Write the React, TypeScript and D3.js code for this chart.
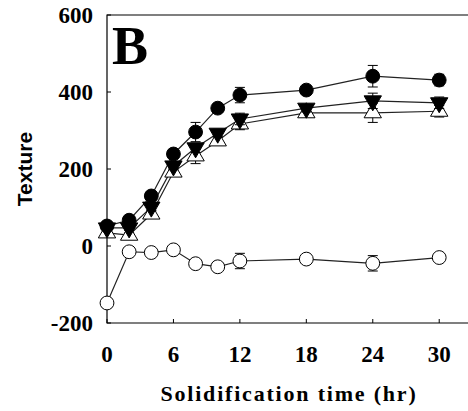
import React, { useEffect, useRef } from 'react';
import * as d3 from 'd3';

const hours = [0, 2, 4, 6, 8, 10, 12, 18, 24, 30];
const filledCircle = [52, 67, 130, 239, 296, 358, 392, 405, 441, 431];
const filledCircleErr = [8, 10, 10, 12, 25, 10, 20, 8, 28, 15];
const downTri = [47, 47, 101, 208, 255, 293, 330, 358, 377, 372];
const downTriErr = [6, 6, 8, 10, 12, 10, 15, 10, 20, 15];
const upTri = [34, 28, 83, 192, 234, 273, 317, 346, 346, 350];
const upTriErr = [6, 6, 8, 10, 20, 12, 15, 10, 25, 15];
const openCircle = [-148, -15, -17, -10, -46, -54, -39, -34, -45, -30];
const openCircleErr = [5, 5, 5, 5, 6, 6, 20, 8, 20, 6];
const xTicks = [0, 6, 12, 18, 24, 30];
const yTicks = [-200, 0, 200, 400, 600];

export default function App() {
  const ref = useRef<SVGSVGElement>(null);

  useEffect(() => {
    const width = 468;
    const height = 411;
    const margin = { top: 15, right: 0, bottom: 88, left: 107 };

    const svg = d3.select(ref.current);
    svg.selectAll('*').remove();
    svg.attr('width', width).attr('height', height);

    const x = d3.scaleLinear().domain([0, 32.6]).range([margin.left, width - margin.right]);
    const y = d3.scaleLinear().domain([-200, 600]).range([height - margin.bottom, margin.top]);

    // frame (right side runs off the picture)
    svg.append('path')
      .attr('d', `M${width},${y(600)}H${x(0)}V${y(-200)}H${width}`)
      .attr('fill', 'none')
      .attr('stroke', '#000')
      .attr('stroke-width', 1.2);

    // ticks point inwards
    svg.append('g').selectAll('line').data(yTicks).enter().append('line')
      .attr('x1', x(0)).attr('x2', x(0) + 4)
      .attr('y1', d => y(d)).attr('y2', d => y(d))
      .attr('stroke', '#000');
    svg.append('g').selectAll('line').data(xTicks).enter().append('line')
      .attr('x1', d => x(d)).attr('x2', d => x(d))
      .attr('y1', y(-200)).attr('y2', y(-200) - 4)
      .attr('stroke', '#000');

    const serif = '"Liberation Serif", "Times New Roman", serif';

    svg.append('g').selectAll('text').data(yTicks).enter().append('text')
      .attr('x', x(0) - 14).attr('y', d => y(d) + 8)
      .attr('text-anchor', 'end')
      .style('font-family', serif).style('font-weight', 'bold').style('font-size', '23px')
      .text(d => d);
    svg.append('g').selectAll('text').data(xTicks).enter().append('text')
      .attr('x', d => x(d)).attr('y', 362)
      .attr('text-anchor', 'middle')
      .style('font-family', serif).style('font-weight', 'bold').style('font-size', '23px')
      .text(d => d);

    svg.append('text')
      .attr('x', 289).attr('y', 401)
      .attr('text-anchor', 'middle')
      .style('font-family', serif).style('font-weight', 'bold').style('font-size', '22px')
      .style('letter-spacing', '1.8px')
      .text('Solidification time (hr)');

    svg.append('text')
      .attr('transform', `translate(32,${(y(600) + y(-200)) / 2}) rotate(-90)`)
      .attr('text-anchor', 'middle')
      .style('font-family', '"Liberation Sans", Arial, sans-serif').style('font-weight', 'bold').style('font-size', '21px')
      .text('Texture');

    svg.append('text')
      .attr('x', 112).attr('y', 64)
      .style('font-family', serif).style('font-weight', 'bold').style('font-size', '54px')
      .text('B');

    const series = [
      { vals: openCircle, err: openCircleErr, shape: 'circle', fill: '#fff' },
      { vals: upTri, err: upTriErr, shape: 'up', fill: '#fff' },
      { vals: downTri, err: downTriErr, shape: 'down', fill: '#000' },
      { vals: filledCircle, err: filledCircleErr, shape: 'circle', fill: '#000' },
    ];

    const line = d3.line<number>().x((_, i) => x(hours[i])).y(d => y(d));

    series.forEach(s => {
      svg.append('path')
        .attr('d', line(s.vals))
        .attr('fill', 'none')
        .attr('stroke', '#222')
        .attr('stroke-width', 1.2);
    });

    series.forEach(s => {
      const g = svg.append('g');
      s.vals.forEach((v, i) => {
        const cx = x(hours[i]);
        const lo = v - s.err[i];
        const hi = v + s.err[i];
        g.append('line').attr('x1', cx).attr('x2', cx).attr('y1', y(lo)).attr('y2', y(hi)).attr('stroke', '#000');
        g.append('line').attr('x1', cx - 5).attr('x2', cx + 5).attr('y1', y(hi)).attr('y2', y(hi)).attr('stroke', '#000');
        g.append('line').attr('x1', cx - 5).attr('x2', cx + 5).attr('y1', y(lo)).attr('y2', y(lo)).attr('stroke', '#000');
      });
      const sym = s.shape === 'circle'
        ? d3.symbol().type(d3.symbolCircle).size(150)
        : d3.symbol().type(d3.symbolTriangle).size(130);
      g.selectAll('path.m').data(s.vals).enter().append('path')
        .attr('class', 'm')
        .attr('d', sym)
        .attr('transform', (d, i) => `translate(${x(hours[i])},${y(d)})${s.shape === 'down' ? ' rotate(180)' : ''}`)
        .attr('fill', s.fill)
        .attr('stroke', '#000')
        .attr('stroke-width', 1);
    });
  }, []);

  return <svg ref={ref} style={{ display: 'block', position: 'absolute', left: 0, top: 0 }} />;
}
